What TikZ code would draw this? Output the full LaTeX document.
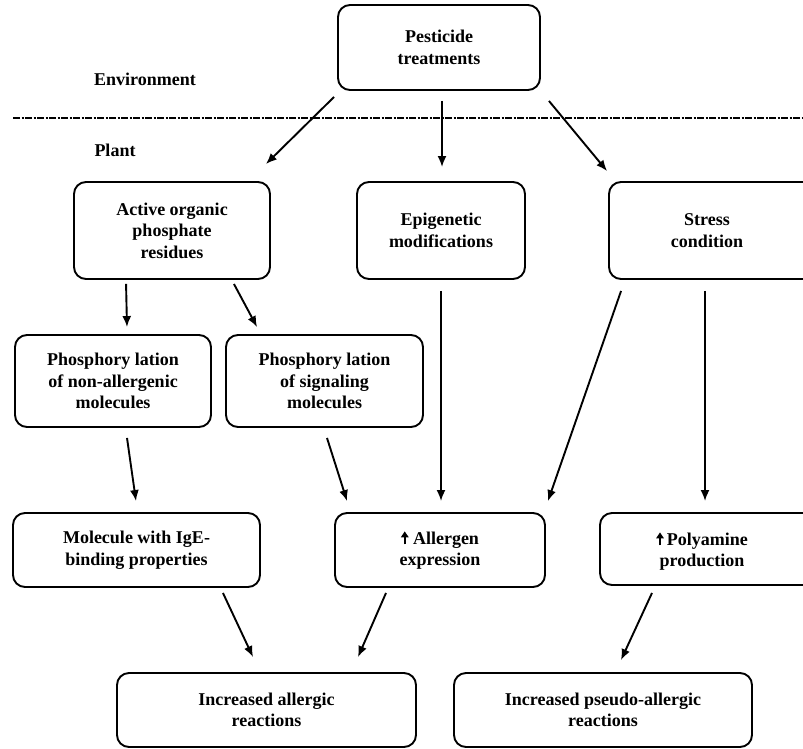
\documentclass[tikz,border=0pt]{standalone}
\usepackage{fontspec}
\setmainfont{Liberation Serif}
\usetikzlibrary{arrows.meta,calc}
\newcommand\upmark{\tikz[x=1pt,y=1pt,baseline=0pt]\draw[line width=2pt,-{Triangle[length=6pt,width=7.5pt]}](0,0)--(0,13);}
\begin{document}
\begin{tikzpicture}[x=1pt,y=-1pt,
  txt/.style={align=center,inner sep=0pt,font=\fontsize{18}{21.5}\selectfont\bfseries},
  box/.style={txt,draw,line width=1.9pt,rounded corners=12pt},
  arr/.style={line width=1.9pt,-{Latex[length=11pt,width=9pt]}},
  lbl/.style={font=\fontsize{18}{21.5}\selectfont\bfseries},
  divider/.style={line width=1.5pt,dash pattern=on 7pt off 1.5pt on 2pt off 1.5pt}]
\useasboundingbox (0,0) rectangle (803,748);
\clip (0,0) rectangle (803,748);

\node[lbl] (env) at (145,79) {Environment};
\node[lbl] (plant) at (115,150) {Plant};
\coordinate (divL) at (13,118);
\coordinate (divR) at (803,118);
\draw[divider] (divL) -- (divR);

\node[box,minimum width=202pt,minimum height=85pt] (pest) at (439,47.5) {Pesticide\\treatments};

\node[box,minimum width=196pt,minimum height=97pt] (active) at (172,230.5) {Active organic\\phosphate\\residues};
\node[box,minimum width=168pt,minimum height=97pt] (epi) at (441,230.5) {Epigenetic\\modifications};
\node[box,minimum width=211pt,minimum height=97pt] (stress) at (714.5,230.5) {};
\node[txt] (stressT) at (707,230.5) {Stress\\condition};

\node[box,minimum width=196pt,minimum height=92pt] (phos1) at (113,381) {Phosphory lation\\of non-allergenic\\molecules};
\node[box,minimum width=197pt,minimum height=92pt] (phos2) at (324.5,381) {Phosphory lation\\of signaling\\molecules};

\node[box,minimum width=247pt,minimum height=74pt] (mol) at (136.5,550) {Molecule with IgE-\\binding properties};
\node[box,minimum width=210pt,minimum height=74pt] (allergen) at (440,550) {\upmark\ Allergen\\expression};
\node[box,minimum width=220pt,minimum height=72pt] (poly) at (710,549) {};
\node[txt] (polyT) at (702,551) {\upmark\,Polyamine\\production};

\node[box,minimum width=299pt,minimum height=74pt] (inc1) at (266.5,710) {Increased allergic\\reactions};
\node[box,minimum width=298pt,minimum height=74pt] (inc2) at (603,710) {Increased pseudo-allergic\\reactions};

\draw[arr] ($(pest.south west)+(-3,6)$) -- ($(active.north east)+(-5,-17)$);
\draw[arr] ($(pest.south)+(3,10)$) -- ($(epi.north)+(1,-14)$);
\draw[arr] ($(pest.south east)+(8,10)$) -- ($(stress.north west)+(-1,-10)$);

\draw[arr] ($(active.south west)+(53,4)$) -- ($(phos1.north)+(14,-7)$);
\draw[arr] ($(active.south east)+(-37,4)$) -- ($(phos2.north west)+(32,-7)$);
\draw[arr] ($(epi.south)+(0,11)$) -- ($(allergen.north)+(1,-11)$);
\draw[arr] ($(stress.south west)+(13,11)$) -- ($(allergen.north east)+(2,-11)$);
\draw[arr] ($(stress.south)+(-9.5,11)$) -- ($(poly.north)+(-5,-11)$);

\draw[arr] ($(phos1.south)+(14,10)$) -- ($(mol.north)+(-0.5,-11)$);
\draw[arr] ($(phos2.south)+(2.5,10)$) -- ($(allergen.north west)+(13,-11)$);

\draw[arr] ($(mol.south east)+(-38,5)$) -- ($(inc1.north)+(-13.5,-15)$);
\draw[arr] ($(allergen.south)+(-54,5)$) -- ($(inc1.north)+(91.5,-15)$);
\draw[arr] ($(poly.south)+(-58,7)$) -- ($(inc2.north)+(18,-12)$);
\end{tikzpicture}
\end{document}
